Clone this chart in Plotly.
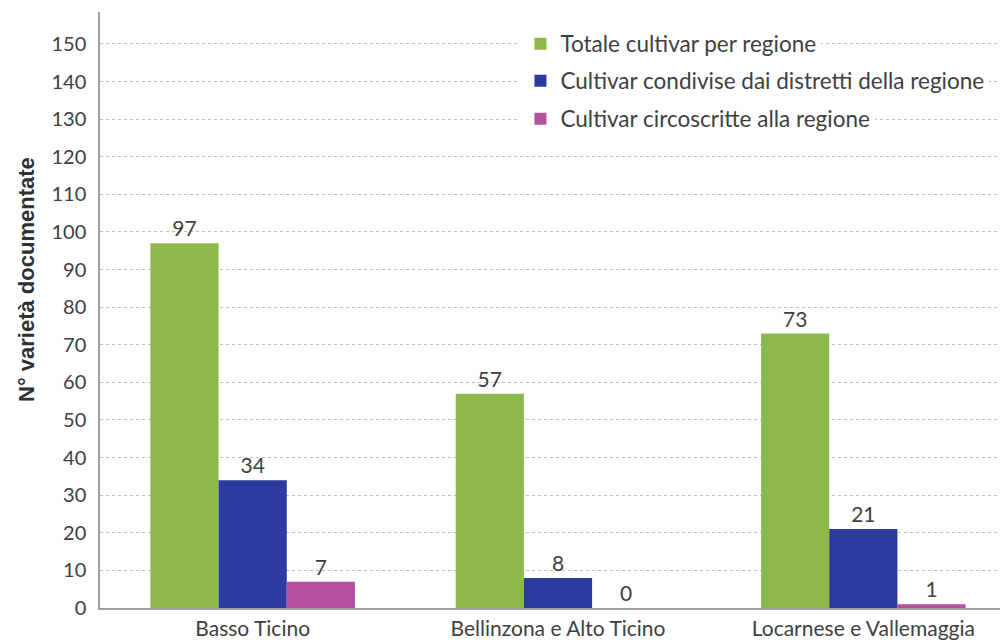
import plotly.graph_objects as go

regioni = ["Basso Ticino", "Bellinzona e Alto Ticino", "Locarnese e Vallemaggia"]
serie = ["Totale cultivar per regione",
         "Cultivar condivise dai distretti della regione",
         "Cultivar circoscritte alla regione"]
totale = [97, 57, 73]
condivise = [34, 8, 21]
circoscritte = [7, 0, 1]
y_ticks = list(range(0, 151, 10))

colori = ["#8db94c", "#2e3b9e", "#b4509f"]
valori = [totale, condivise, circoscritte]
legende = ["legend", "legend2", "legend3"]

FONT = "Lato, 'Open Sans', sans-serif"
# il browser aggiunge 8px di margine alla pagina: area del grafico 92..1008 x 4..600
TOP, BOTTOM, LEFT = 4, 600, 92
H = BOTTOM - TOP
W = 1008 - LEFT

fig = go.Figure()
for nome, vals, col, leg in zip(serie, valori, colori, legende):
    fig.add_trace(go.Bar(
        x=regioni, y=vals, name=nome, marker=dict(color=col, line=dict(width=0)),
        text=vals, textposition="outside", cliponaxis=False,
        textfont=dict(size=21, color="#404040", family=FONT),
        legend=leg, showlegend=True))

# una legenda per voce, così le righe cadono sulle griglie
leg_style = dict(x=0.459, xanchor="left", yanchor="middle",
                 bgcolor="white", font=dict(size=22.5, color="#404040", family=FONT),
                 itemwidth=30, borderwidth=0)
fig.update_layout(
    showlegend=True,
    legend=dict(y=(BOTTOM - 36) / H, **leg_style),
    legend2=dict(y=(BOTTOM - 73) / H, **leg_style),
    legend3=dict(y=(BOTTOM - 111) / H, **leg_style),
)

# titolo asse y come annotazione (nel riferimento non è centrato sull'asse)
fig.add_annotation(text="<b>N° varietà documentate</b>", textangle=-90,
                   xref="paper", yref="paper",
                   x=(18 - LEFT) / W, y=(BOTTOM - 272) / H,
                   xanchor="center", yanchor="middle", showarrow=False,
                   font=dict(size=22, color="#303030",
                             family="Arial, 'Liberation Sans', sans-serif"))

fig.update_layout(
    width=1008, height=643,
    margin=dict(l=LEFT, r=0, t=TOP, b=643 - BOTTOM),
    plot_bgcolor="white", paper_bgcolor="white",
    barmode="group", bargap=0.33, bargroupgap=0,
    font=dict(family=FONT, color="#404040"),
    xaxis=dict(range=[-0.5, 2.5], showgrid=False, ticks="", automargin=False,
               tickfont=dict(size=21, color="#404040"), ticklabelstandoff=1,
               showline=True, linecolor="#a0a0a0", linewidth=1.5,
               mirror=False),
    yaxis=dict(range=[0, 158.5], tickvals=y_ticks, ticks="", automargin=False,
               tickfont=dict(size=20, color="#404040"),
               showgrid=True, gridcolor="#c0c0c0", griddash="dot", gridwidth=1,
               showline=True, linecolor="#a0a0a0", linewidth=1.5, mirror=True,
               zeroline=False, ticklabelstandoff=8),
)

fig.write_html("out.html")
